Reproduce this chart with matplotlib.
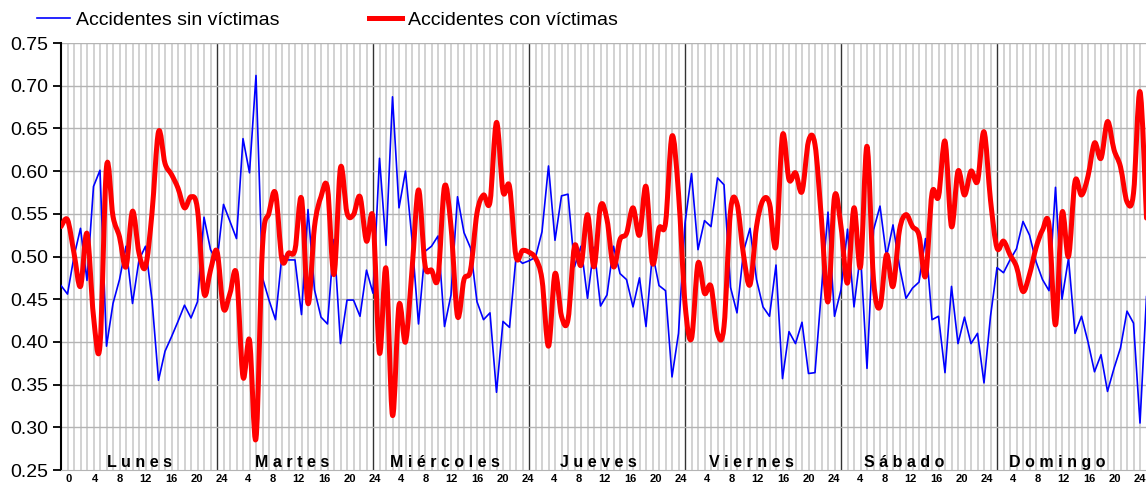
import numpy as np
import matplotlib
matplotlib.use('Agg')
import matplotlib.pyplot as plt
from matplotlib.path import Path
from matplotlib.patches import PathPatch
from matplotlib.lines import Line2D

plt.rcParams['font.family'] = ['Liberation Sans', 'DejaVu Sans']

dias = ['Lunes', 'Martes', 'Miércoles', 'Jueves', 'Viernes', 'Sábado', 'Domingo']

# proporcion por hora, 7 dias x 24 h (hora 0 del lunes ... hora 23 del domingo)
sin_victimas = [
    0.466, 0.456, 0.500, 0.533, 0.472, 0.582, 0.601, 0.395, 0.445, 0.473, 0.512, 0.445,
    0.496, 0.512, 0.449, 0.355, 0.389, 0.406, 0.424, 0.443, 0.428, 0.447, 0.546, 0.508,
    0.494, 0.561, 0.541, 0.521, 0.638, 0.598, 0.712, 0.475, 0.449, 0.426, 0.502, 0.496,
    0.496, 0.432, 0.555, 0.461, 0.429, 0.421, 0.520, 0.398, 0.449, 0.449, 0.430, 0.484,
    0.457, 0.615, 0.513, 0.687, 0.557, 0.600, 0.520, 0.421, 0.506, 0.512, 0.524, 0.418,
    0.455, 0.570, 0.528, 0.510, 0.447, 0.426, 0.434, 0.341, 0.424, 0.417, 0.499, 0.492,
    0.495, 0.499, 0.529, 0.606, 0.519, 0.571, 0.573, 0.488, 0.512, 0.451, 0.511, 0.442,
    0.455, 0.512, 0.480, 0.473, 0.441, 0.475, 0.418, 0.504, 0.466, 0.460, 0.359, 0.410,
    0.539, 0.597, 0.508, 0.542, 0.535, 0.592, 0.584, 0.464, 0.434, 0.506, 0.533, 0.473,
    0.441, 0.430, 0.490, 0.357, 0.412, 0.398, 0.423, 0.363, 0.364, 0.461, 0.552, 0.430,
    0.461, 0.532, 0.441, 0.504, 0.369, 0.531, 0.559, 0.500, 0.537, 0.488, 0.451, 0.463,
    0.470, 0.521, 0.426, 0.430, 0.364, 0.465, 0.398, 0.429, 0.398, 0.410, 0.352, 0.430,
    0.487, 0.481, 0.496, 0.509, 0.541, 0.525, 0.494, 0.473, 0.460, 0.581, 0.450, 0.498,
    0.410, 0.430, 0.400, 0.365, 0.385, 0.342, 0.369, 0.393, 0.436, 0.422, 0.305, 0.453,
]

con_victimas = [
    0.535, 0.543, 0.504, 0.465, 0.527, 0.430, 0.396, 0.605, 0.547, 0.523, 0.488, 0.553,
    0.504, 0.488, 0.551, 0.646, 0.609, 0.596, 0.580, 0.557, 0.570, 0.555, 0.457, 0.484,
    0.506, 0.439, 0.457, 0.479, 0.359, 0.402, 0.287, 0.512, 0.551, 0.574, 0.496, 0.504,
    0.508, 0.568, 0.445, 0.535, 0.570, 0.580, 0.479, 0.604, 0.551, 0.549, 0.570, 0.518,
    0.545, 0.387, 0.486, 0.314, 0.443, 0.400, 0.484, 0.578, 0.490, 0.484, 0.475, 0.582,
    0.535, 0.430, 0.473, 0.484, 0.551, 0.572, 0.564, 0.657, 0.576, 0.582, 0.500, 0.507,
    0.505, 0.498, 0.473, 0.395, 0.480, 0.430, 0.426, 0.512, 0.490, 0.549, 0.488, 0.559,
    0.543, 0.488, 0.520, 0.527, 0.557, 0.525, 0.582, 0.492, 0.533, 0.539, 0.641, 0.574,
    0.445, 0.404, 0.492, 0.457, 0.465, 0.410, 0.418, 0.553, 0.562, 0.502, 0.467, 0.535,
    0.566, 0.562, 0.512, 0.642, 0.590, 0.598, 0.576, 0.635, 0.631, 0.543, 0.447, 0.570,
    0.535, 0.469, 0.557, 0.488, 0.629, 0.473, 0.441, 0.502, 0.465, 0.531, 0.549, 0.535,
    0.525, 0.477, 0.574, 0.570, 0.635, 0.535, 0.600, 0.572, 0.600, 0.588, 0.646, 0.566,
    0.510, 0.518, 0.502, 0.488, 0.459, 0.479, 0.510, 0.531, 0.537, 0.420, 0.551, 0.500,
    0.588, 0.572, 0.594, 0.633, 0.615, 0.658, 0.625, 0.605, 0.564, 0.574, 0.693, 0.545,
]

horas = np.arange(len(sin_victimas))


def linea_suave(x, y):
    # curva bezier que pasa por cada punto (como la linea suavizada de Excel)
    p = np.column_stack([x, y]).astype(float)
    n = len(p)
    verts = [p[0]]
    codes = [Path.MOVETO]
    for i in range(n - 1):
        p0 = p[max(i - 1, 0)]
        p1 = p[i]
        p2 = p[i + 1]
        p3 = p[min(i + 2, n - 1)]
        verts += [p1 + (p2 - p0) / 6, p2 - (p3 - p1) / 6, p2]
        codes += [Path.CURVE4] * 3
    return Path(verts, codes)


def pos_etiqueta(h):
    # las etiquetas del original estan algo comprimidas respecto a la rejilla
    return 1.23 + 0.981 * h


fig = plt.figure(figsize=(11.46, 4.86), dpi=100)
ax = fig.add_axes([61 / 1146, 16 / 486, 1092 / 1146, 427 / 486])

# rejilla: una linea por hora, linea negra entre dias
for h in range(1, 168):
    if h % 24 == 0:
        ax.axvline(h, color='#333333', lw=1.0, zorder=1)
    else:
        ax.axvline(h, color='#c6c6c6', lw=1.1, zorder=1)
for y in np.arange(0.30, 0.76, 0.05):
    ax.axhline(y, color='#b4b4b4', lw=1.0, zorder=1)

ax.plot(horas, sin_victimas, color='#0000ff', lw=1.2, zorder=3)
ax.add_patch(PathPatch(linea_suave(horas, con_victimas), facecolor='none',
                       edgecolor='#ff0000', lw=3.6, joinstyle='round',
                       capstyle='round', zorder=4))

ax.set_xlim(0, 168)
ax.set_ylim(0.25, 0.75)
ax.set_yticks(np.arange(0.25, 0.76, 0.05))
ax.set_yticklabels([f'{v:.2f}' for v in np.arange(0.25, 0.76, 0.05)], fontsize=14)
ax.tick_params(axis='y', direction='out', length=6, width=1.3, pad=3)

pos, etiquetas = [], []
for d in range(7):
    for h in range(0 if d == 0 else 4, 25, 4):
        pos.append(pos_etiqueta(d * 24 + h))
        etiquetas.append(str(h))
ax.set_xticks(pos)
ax.set_xticklabels(etiquetas, fontsize=8, fontweight='bold')
ax.tick_params(axis='x', length=0, pad=3)

for d, nombre in enumerate(dias):
    ax.text(pos_etiqueta(d * 24 + 11), 0.259, ' '.join(nombre), ha='center', va='center',
            fontsize=11.5, fontweight='bold', zorder=5)

for s in ['top', 'right']:
    ax.spines[s].set_visible(False)
ax.spines['left'].set_linewidth(1.5)
ax.spines['bottom'].set_color('#b4b4b4')

handles = [Line2D([], [], color='#0000ff', lw=1.2),
           Line2D([], [], color='#ff0000', lw=3.6)]
ax.legend(handles, ['Accidentes sin víctimas', 'Accidentes con víctimas'],
          loc='center left', bbox_to_anchor=(-0.022, 1.054), ncol=2, frameon=False,
          fontsize=14, handlelength=1.7, handletextpad=0.3, columnspacing=4.6,
          borderaxespad=0, borderpad=0)

fig.savefig('out.png', dpi=100)
